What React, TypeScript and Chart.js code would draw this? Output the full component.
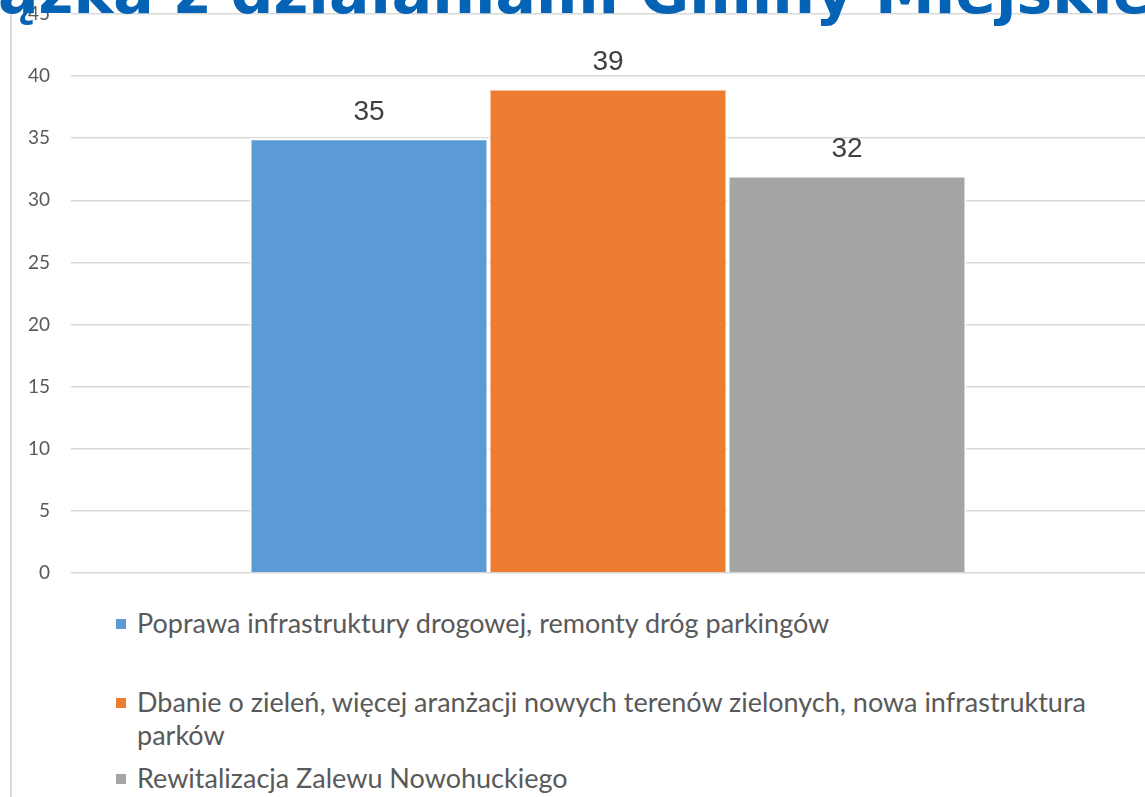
import React, { useEffect, useRef } from "react";
import { Chart, registerables } from "chart.js";

Chart.register(...registerables);

const categories = [""];
const seriesLabels = [
  "Poprawa infrastruktury drogowej, remonty dróg parkingów",
  "Dbanie o zieleń, więcej aranżacji nowych terenów zielonych, nowa infrastruktura parków",
  "Rewitalizacja Zalewu Nowohuckiego",
];
const seriesValues = [35, 39, 32];
const seriesColors = ["#5b9bd5", "#ed7d31", "#a5a5a5"];
const yMin = 0;
const yMax = 45;
const yStep = 5;
const titleText = "ązka z działaniami Gminy Miejskiej";

const legendTops = [606, 685, 761];

const valueLabelPlugin = {
  id: "valueLabels",
  afterDatasetsDraw(chart: any) {
    const ctx = chart.ctx;
    ctx.save();
    ctx.font = "28px 'Liberation Sans', Arial, sans-serif";
    ctx.fillStyle = "#404040";
    ctx.textAlign = "center";
    ctx.textBaseline = "middle";
    chart.data.datasets.forEach((ds: any, i: number) => {
      const meta = chart.getDatasetMeta(i);
      meta.data.forEach((el: any, j: number) => {
        ctx.fillText(String(ds.data[j]), el.x, el.y - 26);
      });
    });
    ctx.restore();
  },
};

export default function App() {
  const canvasRef = useRef<HTMLCanvasElement | null>(null);

  useEffect(() => {
    document.body.style.margin = "0";
    if (!canvasRef.current) return;
    const chart = new Chart(canvasRef.current, {
      type: "bar",
      data: {
        labels: categories,
        datasets: seriesLabels.map((label, i) => ({
          label,
          data: [seriesValues[i]],
          backgroundColor: seriesColors[i],
          borderColor: "#ffffff",
          borderWidth: 2,
          categoryPercentage: 0.6676,
          barPercentage: 1,
        })),
      },
      options: {
        animation: false,
        responsive: true,
        maintainAspectRatio: false,
        layout: { padding: { top: 14, bottom: 27, left: 0, right: 0 } },
        plugins: {
          legend: { display: false },
          title: { display: false },
          tooltip: { enabled: false },
        },
        scales: {
          x: { display: false, grid: { display: false } },
          y: {
            min: yMin,
            max: yMax,
            ticks: {
              stepSize: yStep,
              padding: 21,
              color: "#595959",
              font: { family: "Lato, 'Open Sans', sans-serif", size: 19 },
            },
            grid: { color: "#d9d9d9", lineWidth: 1.5, drawTicks: false },
            border: { display: false },
            afterFit: (s: any) => {
              s.width = 71;
              s.paddingTop = 0;
              s.paddingBottom = 0;
            },
          },
        },
      },
      plugins: [valueLabelPlugin],
    });
    return () => chart.destroy();
  }, []);

  return (
    <div
      style={{
        position: "fixed",
        inset: 0,
        overflow: "hidden",
        background: "#ffffff",
        fontFamily: "Lato, sans-serif",
      }}
    >
      <div
        style={{
          position: "absolute",
          left: 10,
          top: 0,
          width: 2,
          height: "100%",
          background: "#d9d9d9",
        }}
      />
      <div style={{ position: "absolute", left: 0, top: 0, width: 1145, height: 600 }}>
        <canvas ref={canvasRef} />
      </div>
      <div
        style={{
          position: "absolute",
          left: -2,
          top: -38,
          whiteSpace: "nowrap",
          fontFamily: "'DejaVu Sans', sans-serif",
          fontWeight: "bold",
          fontSize: 60,
          lineHeight: "60px",
          color: "#0563b6",
          zIndex: 2,
        }}
      >
        {titleText}
      </div>
      {seriesLabels.map((label, i) => (
        <div
          key={i}
          style={{
            position: "absolute",
            left: 116,
            top: legendTops[i],
            width: 1020,
            display: "flex",
            alignItems: "flex-start",
          }}
        >
          <div
            style={{
              width: 10,
              height: 10,
              marginTop: 13,
              background: seriesColors[i],
              flex: "0 0 auto",
            }}
          />
          <div
            style={{
              marginLeft: 11,
              width: 990,
              fontSize: 27,
              lineHeight: "33px",
              color: "#595959",
            }}
          >
            {label}
          </div>
        </div>
      ))}
    </div>
  );
}
